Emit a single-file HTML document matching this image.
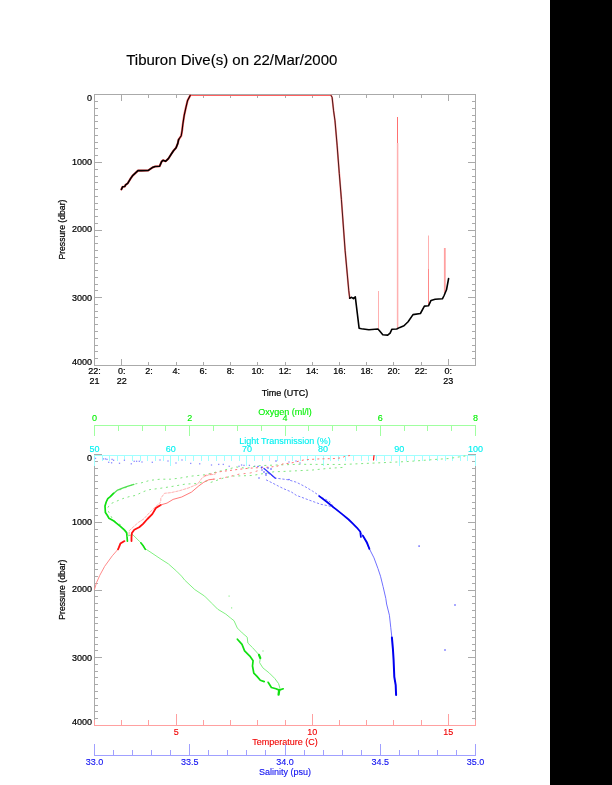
<!DOCTYPE html>
<html><head><meta charset="utf-8"><style>
html,body{margin:0;padding:0;background:#fff;}
body{width:612px;height:785px;overflow:hidden;position:relative;}
svg{position:absolute;left:0;top:0;will-change:transform;}
text{font-family:"Liberation Sans", sans-serif;}
#bar{position:absolute;left:550px;top:0;width:62px;height:785px;background:#000;}
</style></head><body>
<svg width="612" height="785" viewBox="0 0 612 785">
<g shape-rendering="crispEdges">
<text x="126.2" y="65" fill="#000" stroke="#000" stroke-width="0.15" font-size="15" text-anchor="start" >Tiburon Dive(s) on 22/Mar/2000</text>
<rect x="94" y="94" width="382" height="1" fill="#aaa"/>
<rect x="94" y="365" width="382" height="1" fill="#aaa"/>
<rect x="94" y="94" width="1" height="272" fill="#aaa"/>
<rect x="475" y="94" width="1" height="272" fill="#aaa"/>
<rect x="94" y="365" width="8" height="1" fill="#aaa"/>
<rect x="468" y="365" width="8" height="1" fill="#aaa"/>
<rect x="94" y="358" width="4" height="1" fill="#aaa"/>
<rect x="472" y="358" width="4" height="1" fill="#aaa"/>
<rect x="94" y="351" width="4" height="1" fill="#aaa"/>
<rect x="472" y="351" width="4" height="1" fill="#aaa"/>
<rect x="94" y="345" width="4" height="1" fill="#aaa"/>
<rect x="472" y="345" width="4" height="1" fill="#aaa"/>
<rect x="94" y="338" width="4" height="1" fill="#aaa"/>
<rect x="472" y="338" width="4" height="1" fill="#aaa"/>
<rect x="94" y="331" width="4" height="1" fill="#aaa"/>
<rect x="472" y="331" width="4" height="1" fill="#aaa"/>
<rect x="94" y="324" width="4" height="1" fill="#aaa"/>
<rect x="472" y="324" width="4" height="1" fill="#aaa"/>
<rect x="94" y="317" width="4" height="1" fill="#aaa"/>
<rect x="472" y="317" width="4" height="1" fill="#aaa"/>
<rect x="94" y="311" width="4" height="1" fill="#aaa"/>
<rect x="472" y="311" width="4" height="1" fill="#aaa"/>
<rect x="94" y="304" width="4" height="1" fill="#aaa"/>
<rect x="472" y="304" width="4" height="1" fill="#aaa"/>
<rect x="94" y="297" width="8" height="1" fill="#aaa"/>
<rect x="468" y="297" width="8" height="1" fill="#aaa"/>
<rect x="94" y="290" width="4" height="1" fill="#aaa"/>
<rect x="472" y="290" width="4" height="1" fill="#aaa"/>
<rect x="94" y="284" width="4" height="1" fill="#aaa"/>
<rect x="472" y="284" width="4" height="1" fill="#aaa"/>
<rect x="94" y="277" width="4" height="1" fill="#aaa"/>
<rect x="472" y="277" width="4" height="1" fill="#aaa"/>
<rect x="94" y="270" width="4" height="1" fill="#aaa"/>
<rect x="472" y="270" width="4" height="1" fill="#aaa"/>
<rect x="94" y="263" width="4" height="1" fill="#aaa"/>
<rect x="472" y="263" width="4" height="1" fill="#aaa"/>
<rect x="94" y="257" width="4" height="1" fill="#aaa"/>
<rect x="472" y="257" width="4" height="1" fill="#aaa"/>
<rect x="94" y="250" width="4" height="1" fill="#aaa"/>
<rect x="472" y="250" width="4" height="1" fill="#aaa"/>
<rect x="94" y="243" width="4" height="1" fill="#aaa"/>
<rect x="472" y="243" width="4" height="1" fill="#aaa"/>
<rect x="94" y="236" width="4" height="1" fill="#aaa"/>
<rect x="472" y="236" width="4" height="1" fill="#aaa"/>
<rect x="94" y="230" width="8" height="1" fill="#aaa"/>
<rect x="468" y="230" width="8" height="1" fill="#aaa"/>
<rect x="94" y="223" width="4" height="1" fill="#aaa"/>
<rect x="472" y="223" width="4" height="1" fill="#aaa"/>
<rect x="94" y="216" width="4" height="1" fill="#aaa"/>
<rect x="472" y="216" width="4" height="1" fill="#aaa"/>
<rect x="94" y="209" width="4" height="1" fill="#aaa"/>
<rect x="472" y="209" width="4" height="1" fill="#aaa"/>
<rect x="94" y="203" width="4" height="1" fill="#aaa"/>
<rect x="472" y="203" width="4" height="1" fill="#aaa"/>
<rect x="94" y="196" width="4" height="1" fill="#aaa"/>
<rect x="472" y="196" width="4" height="1" fill="#aaa"/>
<rect x="94" y="189" width="4" height="1" fill="#aaa"/>
<rect x="472" y="189" width="4" height="1" fill="#aaa"/>
<rect x="94" y="182" width="4" height="1" fill="#aaa"/>
<rect x="472" y="182" width="4" height="1" fill="#aaa"/>
<rect x="94" y="176" width="4" height="1" fill="#aaa"/>
<rect x="472" y="176" width="4" height="1" fill="#aaa"/>
<rect x="94" y="169" width="4" height="1" fill="#aaa"/>
<rect x="472" y="169" width="4" height="1" fill="#aaa"/>
<rect x="94" y="162" width="8" height="1" fill="#aaa"/>
<rect x="468" y="162" width="8" height="1" fill="#aaa"/>
<rect x="94" y="155" width="4" height="1" fill="#aaa"/>
<rect x="472" y="155" width="4" height="1" fill="#aaa"/>
<rect x="94" y="148" width="4" height="1" fill="#aaa"/>
<rect x="472" y="148" width="4" height="1" fill="#aaa"/>
<rect x="94" y="142" width="4" height="1" fill="#aaa"/>
<rect x="472" y="142" width="4" height="1" fill="#aaa"/>
<rect x="94" y="135" width="4" height="1" fill="#aaa"/>
<rect x="472" y="135" width="4" height="1" fill="#aaa"/>
<rect x="94" y="128" width="4" height="1" fill="#aaa"/>
<rect x="472" y="128" width="4" height="1" fill="#aaa"/>
<rect x="94" y="121" width="4" height="1" fill="#aaa"/>
<rect x="472" y="121" width="4" height="1" fill="#aaa"/>
<rect x="94" y="115" width="4" height="1" fill="#aaa"/>
<rect x="472" y="115" width="4" height="1" fill="#aaa"/>
<rect x="94" y="108" width="4" height="1" fill="#aaa"/>
<rect x="472" y="108" width="4" height="1" fill="#aaa"/>
<rect x="94" y="101" width="4" height="1" fill="#aaa"/>
<rect x="472" y="101" width="4" height="1" fill="#aaa"/>
<rect x="94" y="94" width="8" height="1" fill="#aaa"/>
<rect x="468" y="94" width="8" height="1" fill="#aaa"/>
<rect x="94" y="362" width="1" height="4" fill="#aaa"/>
<rect x="94" y="94" width="1" height="4" fill="#aaa"/>
<text x="94.5" y="374" fill="#000" stroke="#000" stroke-width="0.22" font-size="9" text-anchor="middle" >22:</text>
<text x="94.5" y="384" fill="#000" stroke="#000" stroke-width="0.22" font-size="9" text-anchor="middle" >21</text>
<rect x="121" y="359" width="1" height="7" fill="#aaa"/>
<rect x="121" y="94" width="1" height="7" fill="#aaa"/>
<text x="121.71428571428572" y="374" fill="#000" stroke="#000" stroke-width="0.22" font-size="9" text-anchor="middle" >0:</text>
<text x="121.71428571428572" y="384" fill="#000" stroke="#000" stroke-width="0.22" font-size="9" text-anchor="middle" >22</text>
<rect x="148" y="362" width="1" height="4" fill="#aaa"/>
<rect x="148" y="94" width="1" height="4" fill="#aaa"/>
<text x="148.92857142857144" y="374" fill="#000" stroke="#000" stroke-width="0.22" font-size="9" text-anchor="middle" >2:</text>
<rect x="176" y="362" width="1" height="4" fill="#aaa"/>
<rect x="176" y="94" width="1" height="4" fill="#aaa"/>
<text x="176.14285714285714" y="374" fill="#000" stroke="#000" stroke-width="0.22" font-size="9" text-anchor="middle" >4:</text>
<rect x="203" y="362" width="1" height="4" fill="#aaa"/>
<rect x="203" y="94" width="1" height="4" fill="#aaa"/>
<text x="203.35714285714286" y="374" fill="#000" stroke="#000" stroke-width="0.22" font-size="9" text-anchor="middle" >6:</text>
<rect x="230" y="362" width="1" height="4" fill="#aaa"/>
<rect x="230" y="94" width="1" height="4" fill="#aaa"/>
<text x="230.57142857142858" y="374" fill="#000" stroke="#000" stroke-width="0.22" font-size="9" text-anchor="middle" >8:</text>
<rect x="257" y="362" width="1" height="4" fill="#aaa"/>
<rect x="257" y="94" width="1" height="4" fill="#aaa"/>
<text x="257.7857142857143" y="374" fill="#000" stroke="#000" stroke-width="0.22" font-size="9" text-anchor="middle" >10:</text>
<rect x="285" y="362" width="1" height="4" fill="#aaa"/>
<rect x="285" y="94" width="1" height="4" fill="#aaa"/>
<text x="285.0" y="374" fill="#000" stroke="#000" stroke-width="0.22" font-size="9" text-anchor="middle" >12:</text>
<rect x="312" y="362" width="1" height="4" fill="#aaa"/>
<rect x="312" y="94" width="1" height="4" fill="#aaa"/>
<text x="312.2142857142857" y="374" fill="#000" stroke="#000" stroke-width="0.22" font-size="9" text-anchor="middle" >14:</text>
<rect x="339" y="362" width="1" height="4" fill="#aaa"/>
<rect x="339" y="94" width="1" height="4" fill="#aaa"/>
<text x="339.42857142857144" y="374" fill="#000" stroke="#000" stroke-width="0.22" font-size="9" text-anchor="middle" >16:</text>
<rect x="366" y="362" width="1" height="4" fill="#aaa"/>
<rect x="366" y="94" width="1" height="4" fill="#aaa"/>
<text x="366.64285714285717" y="374" fill="#000" stroke="#000" stroke-width="0.22" font-size="9" text-anchor="middle" >18:</text>
<rect x="393" y="362" width="1" height="4" fill="#aaa"/>
<rect x="393" y="94" width="1" height="4" fill="#aaa"/>
<text x="393.85714285714283" y="374" fill="#000" stroke="#000" stroke-width="0.22" font-size="9" text-anchor="middle" >20:</text>
<rect x="421" y="362" width="1" height="4" fill="#aaa"/>
<rect x="421" y="94" width="1" height="4" fill="#aaa"/>
<text x="421.07142857142856" y="374" fill="#000" stroke="#000" stroke-width="0.22" font-size="9" text-anchor="middle" >22:</text>
<rect x="448" y="359" width="1" height="7" fill="#aaa"/>
<rect x="448" y="94" width="1" height="7" fill="#aaa"/>
<text x="448.2857142857143" y="374" fill="#000" stroke="#000" stroke-width="0.22" font-size="9" text-anchor="middle" >0:</text>
<text x="448.2857142857143" y="384" fill="#000" stroke="#000" stroke-width="0.22" font-size="9" text-anchor="middle" >23</text>
<rect x="475" y="362" width="1" height="4" fill="#aaa"/>
<rect x="475" y="94" width="1" height="4" fill="#aaa"/>
<text x="285" y="396" fill="#000" stroke="#000" stroke-width="0.22" font-size="9" text-anchor="middle" >Time (UTC)</text>
<text x="92" y="101.0" fill="#000" stroke="#000" stroke-width="0.22" font-size="9" text-anchor="end" >0</text>
<text x="92" y="164.95" fill="#000" stroke="#000" stroke-width="0.22" font-size="9" text-anchor="end" >1000</text>
<text x="92" y="232.4" fill="#000" stroke="#000" stroke-width="0.22" font-size="9" text-anchor="end" >2000</text>
<text x="92" y="301.05" fill="#000" stroke="#000" stroke-width="0.22" font-size="9" text-anchor="end" >3000</text>
<text x="92" y="364.8" fill="#000" stroke="#000" stroke-width="0.22" font-size="9" text-anchor="end" >4000</text>
<text x="0" y="0" fill="#000" stroke="#000" stroke-width="0.22" font-size="9" text-anchor="middle" transform="translate(65.2,229.6) rotate(-90)" textLength="60" lengthAdjust="spacingAndGlyphs">Pressure (dbar)</text>
<rect x="94" y="725" width="382" height="1" fill="#aaa"/>
<rect x="94" y="454" width="1" height="272" fill="#aaa"/>
<rect x="475" y="454" width="1" height="272" fill="#aaa"/>
<rect x="94" y="725" width="8" height="1" fill="#aaa"/>
<rect x="468" y="725" width="8" height="1" fill="#aaa"/>
<rect x="94" y="718" width="4" height="1" fill="#aaa"/>
<rect x="472" y="718" width="4" height="1" fill="#aaa"/>
<rect x="94" y="711" width="4" height="1" fill="#aaa"/>
<rect x="472" y="711" width="4" height="1" fill="#aaa"/>
<rect x="94" y="705" width="4" height="1" fill="#aaa"/>
<rect x="472" y="705" width="4" height="1" fill="#aaa"/>
<rect x="94" y="698" width="4" height="1" fill="#aaa"/>
<rect x="472" y="698" width="4" height="1" fill="#aaa"/>
<rect x="94" y="691" width="4" height="1" fill="#aaa"/>
<rect x="472" y="691" width="4" height="1" fill="#aaa"/>
<rect x="94" y="684" width="4" height="1" fill="#aaa"/>
<rect x="472" y="684" width="4" height="1" fill="#aaa"/>
<rect x="94" y="677" width="4" height="1" fill="#aaa"/>
<rect x="472" y="677" width="4" height="1" fill="#aaa"/>
<rect x="94" y="671" width="4" height="1" fill="#aaa"/>
<rect x="472" y="671" width="4" height="1" fill="#aaa"/>
<rect x="94" y="664" width="4" height="1" fill="#aaa"/>
<rect x="472" y="664" width="4" height="1" fill="#aaa"/>
<rect x="94" y="657" width="8" height="1" fill="#aaa"/>
<rect x="468" y="657" width="8" height="1" fill="#aaa"/>
<rect x="94" y="650" width="4" height="1" fill="#aaa"/>
<rect x="472" y="650" width="4" height="1" fill="#aaa"/>
<rect x="94" y="644" width="4" height="1" fill="#aaa"/>
<rect x="472" y="644" width="4" height="1" fill="#aaa"/>
<rect x="94" y="637" width="4" height="1" fill="#aaa"/>
<rect x="472" y="637" width="4" height="1" fill="#aaa"/>
<rect x="94" y="630" width="4" height="1" fill="#aaa"/>
<rect x="472" y="630" width="4" height="1" fill="#aaa"/>
<rect x="94" y="623" width="4" height="1" fill="#aaa"/>
<rect x="472" y="623" width="4" height="1" fill="#aaa"/>
<rect x="94" y="617" width="4" height="1" fill="#aaa"/>
<rect x="472" y="617" width="4" height="1" fill="#aaa"/>
<rect x="94" y="610" width="4" height="1" fill="#aaa"/>
<rect x="472" y="610" width="4" height="1" fill="#aaa"/>
<rect x="94" y="603" width="4" height="1" fill="#aaa"/>
<rect x="472" y="603" width="4" height="1" fill="#aaa"/>
<rect x="94" y="596" width="4" height="1" fill="#aaa"/>
<rect x="472" y="596" width="4" height="1" fill="#aaa"/>
<rect x="94" y="590" width="8" height="1" fill="#aaa"/>
<rect x="468" y="590" width="8" height="1" fill="#aaa"/>
<rect x="94" y="583" width="4" height="1" fill="#aaa"/>
<rect x="472" y="583" width="4" height="1" fill="#aaa"/>
<rect x="94" y="576" width="4" height="1" fill="#aaa"/>
<rect x="472" y="576" width="4" height="1" fill="#aaa"/>
<rect x="94" y="569" width="4" height="1" fill="#aaa"/>
<rect x="472" y="569" width="4" height="1" fill="#aaa"/>
<rect x="94" y="563" width="4" height="1" fill="#aaa"/>
<rect x="472" y="563" width="4" height="1" fill="#aaa"/>
<rect x="94" y="556" width="4" height="1" fill="#aaa"/>
<rect x="472" y="556" width="4" height="1" fill="#aaa"/>
<rect x="94" y="549" width="4" height="1" fill="#aaa"/>
<rect x="472" y="549" width="4" height="1" fill="#aaa"/>
<rect x="94" y="542" width="4" height="1" fill="#aaa"/>
<rect x="472" y="542" width="4" height="1" fill="#aaa"/>
<rect x="94" y="536" width="4" height="1" fill="#aaa"/>
<rect x="472" y="536" width="4" height="1" fill="#aaa"/>
<rect x="94" y="529" width="4" height="1" fill="#aaa"/>
<rect x="472" y="529" width="4" height="1" fill="#aaa"/>
<rect x="94" y="522" width="8" height="1" fill="#aaa"/>
<rect x="468" y="522" width="8" height="1" fill="#aaa"/>
<rect x="94" y="515" width="4" height="1" fill="#aaa"/>
<rect x="472" y="515" width="4" height="1" fill="#aaa"/>
<rect x="94" y="508" width="4" height="1" fill="#aaa"/>
<rect x="472" y="508" width="4" height="1" fill="#aaa"/>
<rect x="94" y="502" width="4" height="1" fill="#aaa"/>
<rect x="472" y="502" width="4" height="1" fill="#aaa"/>
<rect x="94" y="495" width="4" height="1" fill="#aaa"/>
<rect x="472" y="495" width="4" height="1" fill="#aaa"/>
<rect x="94" y="488" width="4" height="1" fill="#aaa"/>
<rect x="472" y="488" width="4" height="1" fill="#aaa"/>
<rect x="94" y="481" width="4" height="1" fill="#aaa"/>
<rect x="472" y="481" width="4" height="1" fill="#aaa"/>
<rect x="94" y="475" width="4" height="1" fill="#aaa"/>
<rect x="472" y="475" width="4" height="1" fill="#aaa"/>
<rect x="94" y="468" width="4" height="1" fill="#aaa"/>
<rect x="472" y="468" width="4" height="1" fill="#aaa"/>
<rect x="94" y="461" width="4" height="1" fill="#aaa"/>
<rect x="472" y="461" width="4" height="1" fill="#aaa"/>
<rect x="94" y="454" width="8" height="1" fill="#aaa"/>
<rect x="468" y="454" width="8" height="1" fill="#aaa"/>
<text x="92" y="461.0" fill="#000" stroke="#000" stroke-width="0.22" font-size="9" text-anchor="end" >0</text>
<text x="92" y="524.95" fill="#000" stroke="#000" stroke-width="0.22" font-size="9" text-anchor="end" >1000</text>
<text x="92" y="592.4" fill="#000" stroke="#000" stroke-width="0.22" font-size="9" text-anchor="end" >2000</text>
<text x="92" y="661.05" fill="#000" stroke="#000" stroke-width="0.22" font-size="9" text-anchor="end" >3000</text>
<text x="92" y="724.8" fill="#000" stroke="#000" stroke-width="0.22" font-size="9" text-anchor="end" >4000</text>
<text x="0" y="0" fill="#000" stroke="#000" stroke-width="0.22" font-size="9" text-anchor="middle" transform="translate(65.2,589.7) rotate(-90)" textLength="60" lengthAdjust="spacingAndGlyphs">Pressure (dbar)</text>
<rect x="94" y="425" width="382" height="1" fill="#a0ffa0"/>
<rect x="94" y="425" width="1" height="11" fill="#a0ffa0"/>
<text x="94.5" y="421" fill="#00f000" stroke="#00f000" stroke-width="0.12" font-size="9" text-anchor="middle" >0</text>
<rect x="118" y="425" width="1" height="6" fill="#a0ffa0"/>
<rect x="142" y="425" width="1" height="6" fill="#a0ffa0"/>
<rect x="165" y="425" width="1" height="6" fill="#a0ffa0"/>
<rect x="189" y="425" width="1" height="11" fill="#a0ffa0"/>
<text x="189.75" y="421" fill="#00f000" stroke="#00f000" stroke-width="0.12" font-size="9" text-anchor="middle" >2</text>
<rect x="213" y="425" width="1" height="6" fill="#a0ffa0"/>
<rect x="237" y="425" width="1" height="6" fill="#a0ffa0"/>
<rect x="261" y="425" width="1" height="6" fill="#a0ffa0"/>
<rect x="285" y="425" width="1" height="11" fill="#a0ffa0"/>
<text x="285.0" y="421" fill="#00f000" stroke="#00f000" stroke-width="0.12" font-size="9" text-anchor="middle" >4</text>
<rect x="308" y="425" width="1" height="6" fill="#a0ffa0"/>
<rect x="332" y="425" width="1" height="6" fill="#a0ffa0"/>
<rect x="356" y="425" width="1" height="6" fill="#a0ffa0"/>
<rect x="380" y="425" width="1" height="11" fill="#a0ffa0"/>
<text x="380.25" y="421" fill="#00f000" stroke="#00f000" stroke-width="0.12" font-size="9" text-anchor="middle" >6</text>
<rect x="404" y="425" width="1" height="6" fill="#a0ffa0"/>
<rect x="427" y="425" width="1" height="6" fill="#a0ffa0"/>
<rect x="451" y="425" width="1" height="6" fill="#a0ffa0"/>
<rect x="475" y="425" width="1" height="11" fill="#a0ffa0"/>
<text x="475.5" y="421" fill="#00f000" stroke="#00f000" stroke-width="0.12" font-size="9" text-anchor="middle" >8</text>
<text x="285" y="414.7" fill="#00f000" stroke="#00f000" stroke-width="0.12" font-size="9" text-anchor="middle" >Oxygen (ml/l)</text>
<rect x="94" y="455" width="382" height="1" fill="#a0ffff"/>
<rect x="94" y="455" width="1" height="11" fill="#a0ffff"/>
<text x="94.5" y="452" fill="#00f0f0" stroke="#00f0f0" stroke-width="0.12" font-size="9" text-anchor="middle" >50</text>
<rect x="102" y="455" width="1" height="6" fill="#a0ffff"/>
<rect x="109" y="455" width="1" height="6" fill="#a0ffff"/>
<rect x="117" y="455" width="1" height="6" fill="#a0ffff"/>
<rect x="124" y="455" width="1" height="6" fill="#a0ffff"/>
<rect x="132" y="455" width="1" height="6" fill="#a0ffff"/>
<rect x="140" y="455" width="1" height="6" fill="#a0ffff"/>
<rect x="147" y="455" width="1" height="6" fill="#a0ffff"/>
<rect x="155" y="455" width="1" height="6" fill="#a0ffff"/>
<rect x="163" y="455" width="1" height="6" fill="#a0ffff"/>
<rect x="170" y="455" width="1" height="11" fill="#a0ffff"/>
<text x="170.7" y="452" fill="#00f0f0" stroke="#00f0f0" stroke-width="0.12" font-size="9" text-anchor="middle" >60</text>
<rect x="178" y="455" width="1" height="6" fill="#a0ffff"/>
<rect x="185" y="455" width="1" height="6" fill="#a0ffff"/>
<rect x="193" y="455" width="1" height="6" fill="#a0ffff"/>
<rect x="201" y="455" width="1" height="6" fill="#a0ffff"/>
<rect x="208" y="455" width="1" height="6" fill="#a0ffff"/>
<rect x="216" y="455" width="1" height="6" fill="#a0ffff"/>
<rect x="224" y="455" width="1" height="6" fill="#a0ffff"/>
<rect x="231" y="455" width="1" height="6" fill="#a0ffff"/>
<rect x="239" y="455" width="1" height="6" fill="#a0ffff"/>
<rect x="246" y="455" width="1" height="11" fill="#a0ffff"/>
<text x="246.9" y="452" fill="#00f0f0" stroke="#00f0f0" stroke-width="0.12" font-size="9" text-anchor="middle" >70</text>
<rect x="254" y="455" width="1" height="6" fill="#a0ffff"/>
<rect x="262" y="455" width="1" height="6" fill="#a0ffff"/>
<rect x="269" y="455" width="1" height="6" fill="#a0ffff"/>
<rect x="277" y="455" width="1" height="6" fill="#a0ffff"/>
<rect x="285" y="455" width="1" height="6" fill="#a0ffff"/>
<rect x="292" y="455" width="1" height="6" fill="#a0ffff"/>
<rect x="300" y="455" width="1" height="6" fill="#a0ffff"/>
<rect x="307" y="455" width="1" height="6" fill="#a0ffff"/>
<rect x="315" y="455" width="1" height="6" fill="#a0ffff"/>
<rect x="323" y="455" width="1" height="11" fill="#a0ffff"/>
<text x="323.1" y="452" fill="#00f0f0" stroke="#00f0f0" stroke-width="0.12" font-size="9" text-anchor="middle" >80</text>
<rect x="330" y="455" width="1" height="6" fill="#a0ffff"/>
<rect x="338" y="455" width="1" height="6" fill="#a0ffff"/>
<rect x="345" y="455" width="1" height="6" fill="#a0ffff"/>
<rect x="353" y="455" width="1" height="6" fill="#a0ffff"/>
<rect x="361" y="455" width="1" height="6" fill="#a0ffff"/>
<rect x="368" y="455" width="1" height="6" fill="#a0ffff"/>
<rect x="376" y="455" width="1" height="6" fill="#a0ffff"/>
<rect x="384" y="455" width="1" height="6" fill="#a0ffff"/>
<rect x="391" y="455" width="1" height="6" fill="#a0ffff"/>
<rect x="399" y="455" width="1" height="11" fill="#a0ffff"/>
<text x="399.3" y="452" fill="#00f0f0" stroke="#00f0f0" stroke-width="0.12" font-size="9" text-anchor="middle" >90</text>
<rect x="406" y="455" width="1" height="6" fill="#a0ffff"/>
<rect x="414" y="455" width="1" height="6" fill="#a0ffff"/>
<rect x="422" y="455" width="1" height="6" fill="#a0ffff"/>
<rect x="429" y="455" width="1" height="6" fill="#a0ffff"/>
<rect x="437" y="455" width="1" height="6" fill="#a0ffff"/>
<rect x="445" y="455" width="1" height="6" fill="#a0ffff"/>
<rect x="452" y="455" width="1" height="6" fill="#a0ffff"/>
<rect x="460" y="455" width="1" height="6" fill="#a0ffff"/>
<rect x="467" y="455" width="1" height="6" fill="#a0ffff"/>
<rect x="475" y="455" width="1" height="11" fill="#a0ffff"/>
<text x="475.5" y="452" fill="#00f0f0" stroke="#00f0f0" stroke-width="0.12" font-size="9" text-anchor="middle" >100</text>
<text x="285" y="443.8" fill="#00f0f0" stroke="#00f0f0" stroke-width="0.12" font-size="9" text-anchor="middle" >Light Transmission (%)</text>
<rect x="94" y="725" width="382" height="1" fill="#ffa0a0"/>
<rect x="94" y="720" width="1" height="6" fill="#ffa0a0"/>
<rect x="121" y="720" width="1" height="6" fill="#ffa0a0"/>
<rect x="148" y="720" width="1" height="6" fill="#ffa0a0"/>
<rect x="176" y="714" width="1" height="12" fill="#ffa0a0"/>
<text x="176.14285714285714" y="735" fill="#f00000" stroke="#f00000" stroke-width="0.12" font-size="9" text-anchor="middle" >5</text>
<rect x="203" y="720" width="1" height="6" fill="#ffa0a0"/>
<rect x="230" y="720" width="1" height="6" fill="#ffa0a0"/>
<rect x="257" y="720" width="1" height="6" fill="#ffa0a0"/>
<rect x="285" y="720" width="1" height="6" fill="#ffa0a0"/>
<rect x="312" y="714" width="1" height="12" fill="#ffa0a0"/>
<text x="312.2142857142857" y="735" fill="#f00000" stroke="#f00000" stroke-width="0.12" font-size="9" text-anchor="middle" >10</text>
<rect x="339" y="720" width="1" height="6" fill="#ffa0a0"/>
<rect x="366" y="720" width="1" height="6" fill="#ffa0a0"/>
<rect x="393" y="720" width="1" height="6" fill="#ffa0a0"/>
<rect x="421" y="720" width="1" height="6" fill="#ffa0a0"/>
<rect x="448" y="714" width="1" height="12" fill="#ffa0a0"/>
<text x="448.2857142857143" y="735" fill="#f00000" stroke="#f00000" stroke-width="0.12" font-size="9" text-anchor="middle" >15</text>
<rect x="475" y="720" width="1" height="6" fill="#ffa0a0"/>
<text x="285" y="745" fill="#f00000" stroke="#f00000" stroke-width="0.12" font-size="9" text-anchor="middle" >Temperature (C)</text>
<rect x="94" y="755" width="382" height="1" fill="#a0a0ff"/>
<rect x="94" y="744" width="1" height="12" fill="#a0a0ff"/>
<text x="94.5" y="765" fill="#1010f0" stroke="#1010f0" stroke-width="0.12" font-size="9" text-anchor="middle" >33.0</text>
<rect x="113" y="750" width="1" height="6" fill="#a0a0ff"/>
<rect x="132" y="750" width="1" height="6" fill="#a0a0ff"/>
<rect x="151" y="750" width="1" height="6" fill="#a0a0ff"/>
<rect x="170" y="750" width="1" height="6" fill="#a0a0ff"/>
<rect x="189" y="744" width="1" height="12" fill="#a0a0ff"/>
<text x="189.75" y="765" fill="#1010f0" stroke="#1010f0" stroke-width="0.12" font-size="9" text-anchor="middle" >33.5</text>
<rect x="208" y="750" width="1" height="6" fill="#a0a0ff"/>
<rect x="227" y="750" width="1" height="6" fill="#a0a0ff"/>
<rect x="246" y="750" width="1" height="6" fill="#a0a0ff"/>
<rect x="265" y="750" width="1" height="6" fill="#a0a0ff"/>
<rect x="285" y="744" width="1" height="12" fill="#a0a0ff"/>
<text x="285.0" y="765" fill="#1010f0" stroke="#1010f0" stroke-width="0.12" font-size="9" text-anchor="middle" >34.0</text>
<rect x="304" y="750" width="1" height="6" fill="#a0a0ff"/>
<rect x="323" y="750" width="1" height="6" fill="#a0a0ff"/>
<rect x="342" y="750" width="1" height="6" fill="#a0a0ff"/>
<rect x="361" y="750" width="1" height="6" fill="#a0a0ff"/>
<rect x="380" y="744" width="1" height="12" fill="#a0a0ff"/>
<text x="380.25" y="765" fill="#1010f0" stroke="#1010f0" stroke-width="0.12" font-size="9" text-anchor="middle" >34.5</text>
<rect x="399" y="750" width="1" height="6" fill="#a0a0ff"/>
<rect x="418" y="750" width="1" height="6" fill="#a0a0ff"/>
<rect x="437" y="750" width="1" height="6" fill="#a0a0ff"/>
<rect x="456" y="750" width="1" height="6" fill="#a0a0ff"/>
<rect x="475" y="744" width="1" height="12" fill="#a0a0ff"/>
<text x="475.5" y="765" fill="#1010f0" stroke="#1010f0" stroke-width="0.12" font-size="9" text-anchor="middle" >35.0</text>
<text x="285" y="774.8" fill="#1010f0" stroke="#1010f0" stroke-width="0.12" font-size="9" text-anchor="middle" >Salinity (psu)</text>
</g>
<g><polyline points="121.4,189.4 122.6,186.8 124.8,186.5 125.6,184.8 127.7,183.3 130.7,178.4 132.6,175.7 138,170.6 141.5,170.6 148.3,170.4 152.3,167.6 155.2,166.5 159.6,166.2 161.6,161.6 163,160.3 165.5,161.3 168.4,158.6 171,154.5 173.5,150.7 176.1,147.7 177.8,143.4 178.6,139.6 181.2,135.8 182.1,130.6 182.9,123.8 184.2,115.3 185.9,107.6 187.6,100.4 190.2,95.4" fill="none" stroke="#ff6060" stroke-width="2.2" stroke-linejoin="round" stroke-linecap="round" />
<line x1="190" y1="95.5" x2="331" y2="95.5" stroke="#ff6060" stroke-width="1" shape-rendering="crispEdges"/>
<polyline points="331,95.4 332.1,97.3 333.6,110.9 335,120.9 337.1,145.1 339.3,173.7 341.4,199.4 345.1,250.3 348.8,290.9 349.7,298.2" fill="none" stroke="#ff8080" stroke-width="1.8" stroke-linejoin="round" stroke-linecap="round" />
<line x1="378.5" y1="291" x2="378.5" y2="329" stroke="#ffb0b0" stroke-width="1"/>
<line x1="397.5" y1="117" x2="397.5" y2="143" stroke="#ff7070" stroke-width="1"/>
<line x1="397.6" y1="143" x2="397.6" y2="328" stroke="#ffb0b0" stroke-width="1.5"/>
<line x1="428.5" y1="235.5" x2="428.5" y2="269" stroke="#ffb0b0" stroke-width="1"/>
<line x1="428.5" y1="269" x2="428.5" y2="305" stroke="#ff8888" stroke-width="1"/>
<line x1="444.8" y1="248" x2="444.8" y2="293" stroke="#ffa0a0" stroke-width="1.8"/>
<polyline points="121.4,189.4 122.6,186.8 124.8,186.5 125.6,184.8 127.7,183.3 130.7,178.4 132.6,175.7 138,170.6 141.5,170.6 148.3,170.4 152.3,167.6 155.2,166.5 159.6,166.2 161.6,161.6 163,160.3 165.5,161.3 168.4,158.6 171,154.5 173.5,150.7 176.1,147.7 177.8,143.4 178.6,139.6" fill="none" stroke="#000" stroke-width="1.6" stroke-linejoin="round" stroke-linecap="round" />
<polyline points="178.6,139.6 181.2,135.8 182.1,130.6 182.9,123.8 184.2,115.3 185.9,107.6 187.6,100.4 190.2,95.4" fill="none" stroke="#100000" stroke-width="1.15" stroke-linejoin="round" stroke-linecap="round" />
<polyline points="331,95.4 332.1,97.3 333.6,110.9 335,120.9 337.1,145.1 339.3,173.7 341.4,199.4 345.1,250.3 348.8,290.9 349.7,298.2" fill="none" stroke="#301010" stroke-width="0.9" stroke-linejoin="round" stroke-linecap="round" />
<polyline points="349.7,298.2 351.6,297.3 353.4,298.6 355.3,296.8 359.1,328.2 361.5,328.7 368.9,329.8 377.9,329 379.5,330.7 382.8,334.7 387.7,335.1 390.1,333.1 391.8,329.3 396.7,329 399.9,327.4 404,325.8 408.1,321.7 413,314.6 420.4,313.5 424.4,306.1 428.5,305.8 431,300.4 435.1,299.3 442.4,298.8 444.1,295.5 446.5,289.8 448.6,278.5" fill="none" stroke="#000" stroke-width="1.6" stroke-linejoin="round" stroke-linecap="round" />
<rect x="94.85" y="457.75" width="1.3" height="1.3" fill="#8c8cff"/>
<rect x="102.85" y="458.25" width="1.3" height="1.3" fill="#8c8cff"/>
<rect x="104.85" y="458.25" width="1.3" height="1.3" fill="#8c8cff"/>
<rect x="106.35" y="458.75" width="1.3" height="1.3" fill="#8c8cff"/>
<rect x="111.44999999999999" y="458.75" width="1.3" height="1.3" fill="#8c8cff"/>
<rect x="112.94999999999999" y="459.65000000000003" width="1.3" height="1.3" fill="#8c8cff"/>
<rect x="108.05" y="461.65000000000003" width="1.3" height="1.3" fill="#8c8cff"/>
<rect x="110.94999999999999" y="462.15000000000003" width="1.3" height="1.3" fill="#8c8cff"/>
<rect x="118.85" y="462.65000000000003" width="1.3" height="1.3" fill="#8c8cff"/>
<rect x="123.75" y="459.65000000000003" width="1.3" height="1.3" fill="#8c8cff"/>
<rect x="130.65" y="463.15000000000003" width="1.3" height="1.3" fill="#8c8cff"/>
<rect x="133.54999999999998" y="460.65000000000003" width="1.3" height="1.3" fill="#8c8cff"/>
<rect x="135.95" y="460.65000000000003" width="1.3" height="1.3" fill="#8c8cff"/>
<rect x="138.65" y="460.65000000000003" width="1.3" height="1.3" fill="#8c8cff"/>
<rect x="141.35" y="461.35" width="1.3" height="1.3" fill="#8c8cff"/>
<rect x="151.65" y="461.65000000000003" width="1.3" height="1.3" fill="#8c8cff"/>
<rect x="159.35" y="459.35" width="1.3" height="1.3" fill="#8c8cff"/>
<rect x="167.35" y="460.35" width="1.3" height="1.3" fill="#8c8cff"/>
<rect x="175.35" y="462.35" width="1.3" height="1.3" fill="#8c8cff"/>
<rect x="181.35" y="459.35" width="1.3" height="1.3" fill="#8c8cff"/>
<rect x="190.04999999999998" y="462.75" width="1.3" height="1.3" fill="#8c8cff"/>
<rect x="199.04999999999998" y="463.15000000000003" width="1.3" height="1.3" fill="#8c8cff"/>
<rect x="210.85" y="464.35" width="1.3" height="1.3" fill="#8c8cff"/>
<rect x="218.04999999999998" y="463.75" width="1.3" height="1.3" fill="#8c8cff"/>
<rect x="222.65" y="463.75" width="1.3" height="1.3" fill="#8c8cff"/>
<rect x="228.54999999999998" y="465.65000000000003" width="1.3" height="1.3" fill="#8c8cff"/>
<rect x="238.35" y="465.65000000000003" width="1.3" height="1.3" fill="#8c8cff"/>
<rect x="240.95" y="464.35" width="1.3" height="1.3" fill="#8c8cff"/>
<rect x="243.35" y="464.75" width="1.3" height="1.3" fill="#8c8cff"/>
<rect x="248.75" y="464.75" width="1.3" height="1.3" fill="#8c8cff"/>
<rect x="254.04999999999998" y="465.65000000000003" width="1.3" height="1.3" fill="#8c8cff"/>
<rect x="261.35" y="466.35" width="1.3" height="1.3" fill="#8c8cff"/>
<rect x="288.35" y="461.35" width="1.3" height="1.3" fill="#8c8cff"/>
<rect x="295.35" y="460.35" width="1.3" height="1.3" fill="#8c8cff"/>
<rect x="299.35" y="462.35" width="1.3" height="1.3" fill="#8c8cff"/>
<polyline points="465,456 449,458.5 436,459.4 408,461.5 384,462.6 342,464.5 298,464.3 257.3,465.7 246.8,468.3 236.4,467 218.1,471.6 205,474.8 191.5,476.1 180.4,478 170.6,479.2 160.2,479.2 149.8,480.4 141.2,482.9 134,484.1 128.3,486.5 120.1,489.8" fill="none" stroke="#60e060" stroke-width="1" stroke-linejoin="round" stroke-linecap="round" stroke-dasharray="1.2 4.5" opacity="0.8"/>
<polyline points="342,467.5 329,468.3 312.7,470 296.3,470.8 280,471.6 274.9,471.6 252.1,475.5 232.5,476.1 223.3,478.1 211.1,482.3 206.2,481 197.6,483.5 185.3,484.1 171.9,486.5 159.6,488.4 149.8,489.6 145.4,490.9 141.3,492.6 135.6,495.4 129,496.7 122.5,498.7 116.8,501.1 111.9,503.2 109.4,505.2 107.8,507.7 108,510.5 110.3,515 112.7,519.1 116.3,522.4 119.6,524 125,530 128,536" fill="none" stroke="#60e060" stroke-width="1" stroke-linejoin="round" stroke-linecap="round" stroke-dasharray="1.2 4.5" opacity="0.8"/>
<polyline points="133.9,484.4 127.4,486.4 122.5,488.1 117.6,490.1 113.5,493.4" fill="none" stroke="#50e050" stroke-width="1.3" stroke-linejoin="round" stroke-linecap="round" />
<polyline points="113.5,493.4 110.3,496.7 107.8,498.7 106.2,502 105,506 105.4,512.6 107.4,515.5 109,518.3 113.9,521.1 120.4,526.4 124.5,530.1 126.6,532.6 127,536.2 127.4,541.1" fill="none" stroke="#10e010" stroke-width="1.7" stroke-linejoin="round" stroke-linecap="round" />
<polyline points="127.4,536 132.7,534.6 139.2,541.1 142.5,544.4 144.9,548.5 150,551.8 161,559.2 168.4,563.9 176.6,571.2 181.5,576.1 184.8,580.2 190,585.1 194.8,589.6 204.6,596.1 212,603.5 217.7,609.2 225.8,614.1 230.8,618.2 234,620.7 237.3,628 242.2,632.9 247.2,637.2 247.9,643.1 252.5,647.6 259,654.8 260.3,658.1 259.6,662.7 262.9,667.9 269.4,673.1 274.7,678.4 278.6,683.6 279.9,688.2" fill="none" stroke="#80f080" stroke-width="1" stroke-linejoin="round" stroke-linecap="round" />
<polyline points="140.8,542.8 143,545.5 145.3,549.3" fill="none" stroke="#10e010" stroke-width="1.6" stroke-linejoin="round" stroke-linecap="round" />
<polyline points="259,654.8 260.3,658.1" fill="none" stroke="#10e010" stroke-width="2.2" stroke-linejoin="round" stroke-linecap="round" />
<polyline points="237.4,639.2 242,644.4 244.6,650.9 249.8,656.1 253.1,660.7 252.5,666 253.8,673.1 257,676.4 260.3,680.3 264.2,681.6" fill="none" stroke="#10e010" stroke-width="1.7" stroke-linejoin="round" stroke-linecap="round" />
<polyline points="268.1,682.3 271.4,687.5 276,688.8 279.2,690.1 283.2,688.8" fill="none" stroke="#10e010" stroke-width="1.7" stroke-linejoin="round" stroke-linecap="round" />
<polyline points="279.2,690 278.6,694.7" fill="none" stroke="#10e010" stroke-width="2.3" stroke-linejoin="round" stroke-linecap="round" />
<rect x="228.5" y="595.5" width="1.2" height="1.2" fill="#90f090"/>
<rect x="231.0" y="607.3" width="1.2" height="1.2" fill="#90f090"/>
<rect x="262.4" y="650.4" width="1.2" height="1.2" fill="#90f090"/>
<polyline points="94.6,589.2 96.5,582.7 99.8,575.3 104.7,566.3 112.3,555.8 118,549.3" fill="none" stroke="#ff8a8a" stroke-width="1" stroke-linejoin="round" stroke-linecap="round" />
<polyline points="129,534.6 129.4,530.5 138.4,522.4 143.7,519 149.8,512.3 160.8,501.9 160.8,498.2 164.5,493.3 170.6,492.7 179.2,490.8 189,487.8 197.6,484.1 202.5,477.4 208.6,474.9 215,474.3" fill="none" stroke="#ffa8a8" stroke-width="0.9" stroke-linejoin="round" stroke-linecap="round" stroke-dasharray="2.5 1.5"/>
<polyline points="205,475.5 212.8,473.5 220.7,471.6 231.1,470.3 239,469.3 248.1,468.3 259.9,467.6 270.4,467 276.9,466.3 283.4,463.7 288.2,463.4 293.1,462.6 304.5,459.8 319.2,458.9 335.6,458.5 342.1,457.7 345.4,456.1 351.9,455.3" fill="none" stroke="#ff7070" stroke-width="1" stroke-linejoin="round" stroke-linecap="round" stroke-dasharray="1.2 4"/>
<polyline points="213.5,479.2 218.1,478.8 228.5,476.8 239,474.2 250.8,472.9 257.3,470.9 262.5,467.6" fill="none" stroke="#ff8080" stroke-width="1" stroke-linejoin="round" stroke-linecap="round" stroke-dasharray="1.2 5"/>
<polyline points="118,549.3 118.8,547.7 120.4,543.6 124.5,541.1" fill="none" stroke="#ff1010" stroke-width="1.8" stroke-linejoin="round" stroke-linecap="round" />
<polyline points="131.5,541.1 131.5,537.1 131.9,533 134.3,529.7 139.2,527.3 143.1,523.9 147.4,519 152.3,514.1 155.9,508 160.8,504.9" fill="none" stroke="#ff1010" stroke-width="1.8" stroke-linejoin="round" stroke-linecap="round" />
<polyline points="160.8,504.9 167,503.1 173.1,499.4 181.7,497 191.5,492.1 198.8,485.9 203.7,482.3 208.6,479.8 213.5,479.2" fill="none" stroke="#ff6a6a" stroke-width="0.9" stroke-linejoin="round" stroke-linecap="round" />
<polyline points="374,455.5 373.5,460" fill="none" stroke="#ff1010" stroke-width="1.2" stroke-linejoin="round" stroke-linecap="round" />
<polyline points="268.3,473.2 275.6,478.1 288.2,479.8 296.3,482.2 304.5,486.3 312.7,491.2 322.5,497.8 329,501 335.6,509.2" fill="none" stroke="#8080ff" stroke-width="1" stroke-linejoin="round" stroke-linecap="round" stroke-dasharray="1.5 2.5"/>
<polyline points="266.4,480 273,483.3 278.2,486 283.4,488.6 291.4,492 296.3,495.3 309.4,500.2 320.8,504.3 329,505.9 334,508" fill="none" stroke="#8080ff" stroke-width="1" stroke-linejoin="round" stroke-linecap="round" stroke-dasharray="1.5 2.5"/>
<polyline points="360.3,531.8 362.9,535.7 369.4,548.8 374,557.9 377.9,568.4 380.5,576.2 383.1,586.7 385.8,598.4 386.6,604 389.4,615.2 390.8,627.8 391.9,637.6" fill="none" stroke="#7070ff" stroke-width="1" stroke-linejoin="round" stroke-linecap="round" />
<polyline points="319.2,496.1 327,502 333.9,507.6 342.1,514.1 348.6,519.5 353.1,523.9 357,527.8 360.3,531.8 360.9,537" fill="none" stroke="#0000f0" stroke-width="1.8" stroke-linejoin="round" stroke-linecap="round" />
<polyline points="362.9,535.7 366.8,542.2 369.4,548.8" fill="none" stroke="#0000f0" stroke-width="1.8" stroke-linejoin="round" stroke-linecap="round" />
<polyline points="391.9,637.6 392.9,648.8 393.6,660 394.3,676.8 395.7,685.2 396.1,695" fill="none" stroke="#0000f0" stroke-width="2.0" stroke-linejoin="round" stroke-linecap="round" />
<polyline points="264,468.5 267,471 270,473.5 275.3,478.3" fill="none" stroke="#3030ff" stroke-width="1.2" stroke-linejoin="round" stroke-linecap="round" />
<rect x="257.4" y="465.9" width="1.2" height="1.2" fill="#4040ff"/>
<rect x="261.4" y="469.4" width="1.2" height="1.2" fill="#4040ff"/>
<rect x="265.4" y="472.9" width="1.2" height="1.2" fill="#4040ff"/>
<rect x="258.4" y="477.4" width="1.2" height="1.2" fill="#4040ff"/>
<rect x="275.4" y="460.4" width="1.2" height="1.2" fill="#4040ff"/>
<rect x="288.4" y="478.9" width="1.2" height="1.2" fill="#4040ff"/>
<rect x="260.8" y="466.8" width="1.4" height="1.4" fill="#5050ff"/>
<rect x="263.3" y="471.3" width="1.4" height="1.4" fill="#5050ff"/>
<rect x="267.3" y="467.3" width="1.4" height="1.4" fill="#5050ff"/>
<rect x="270.3" y="468.3" width="1.4" height="1.4" fill="#5050ff"/>
<rect x="265.3" y="474.3" width="1.4" height="1.4" fill="#5050ff"/>
<rect x="418.40000000000003" y="545.4" width="1.4" height="1.4" fill="#5050ff"/>
<rect x="454.3" y="604.3" width="1.4" height="1.4" fill="#5050ff"/>
<rect x="444.3" y="649.3" width="1.4" height="1.4" fill="#5050ff"/></g>
</svg>
<div id="bar"></div>
</body></html>
